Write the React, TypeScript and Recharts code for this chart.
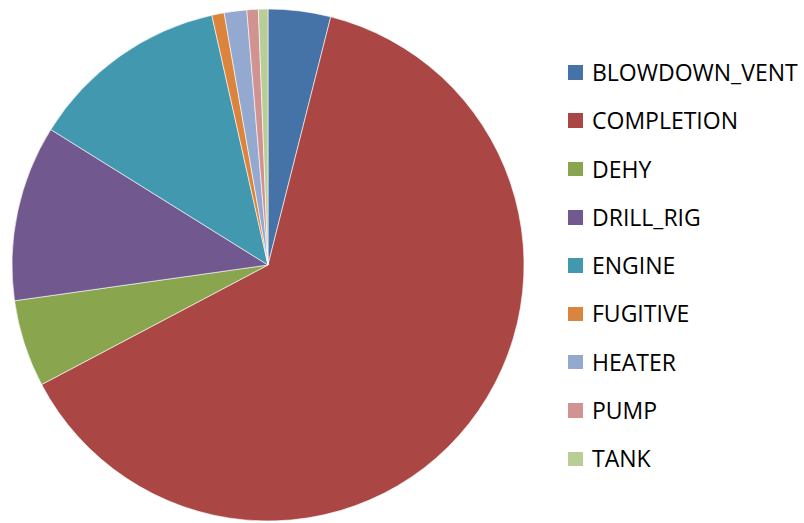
import React from "react";
import { PieChart, Pie, Cell, Legend } from "recharts";

const categories = [
  "BLOWDOWN_VENT",
  "COMPLETION",
  "DEHY",
  "DRILL_RIG",
  "ENGINE",
  "FUGITIVE",
  "HEATER",
  "PUMP",
  "TANK",
];
const values = [3.94, 63.3, 5.5, 11.1, 12.6, 0.78, 1.42, 0.72, 0.6];
const colors = [
  "#4572A7",
  "#AA4643",
  "#89A54E",
  "#71588F",
  "#4198AF",
  "#DB843D",
  "#93A9CF",
  "#D19392",
  "#B9CD96",
];

const data = categories.map((name, i) => ({ name, value: values[i] }));

const renderLegend = () => (
  <div style={{ fontFamily: "'Open Sans', sans-serif" }}>
    {categories.map((name, i) => (
      <div
        key={name}
        style={{
          height: 48.3,
          display: "flex",
          alignItems: "center",
          whiteSpace: "nowrap",
        }}
      >
        <div
          style={{
            width: 14.5,
            height: 14.5,
            background: colors[i],
            marginRight: 9.5,
            flexShrink: 0,
          }}
        />
        <span style={{ fontSize: 23, color: "#000", lineHeight: 1 }}>{name}</span>
      </div>
    ))}
  </div>
);

export default function App() {
  return (
    <div style={{ position: "fixed", left: 0, top: 0, width: 804, height: 523, background: "#fff" }}>
      <PieChart width={804} height={523} margin={{ top: 0, right: 0, bottom: 0, left: 0 }}>
        <Pie
          data={data}
          dataKey="value"
          nameKey="name"
          cx={268}
          cy={265}
          outerRadius={256}
          startAngle={90}
          endAngle={-270}
          stroke="#ffffff"
          strokeWidth={0.6}
          isAnimationActive={false}
        >
          {data.map((d, i) => (
            <Cell key={d.name} fill={colors[i]} />
          ))}
        </Pie>
        <Legend
          content={renderLegend}
          layout="vertical"
          wrapperStyle={{ position: "absolute", left: 568, top: 48.3, width: 236 }}
        />
      </PieChart>
    </div>
  );
}
